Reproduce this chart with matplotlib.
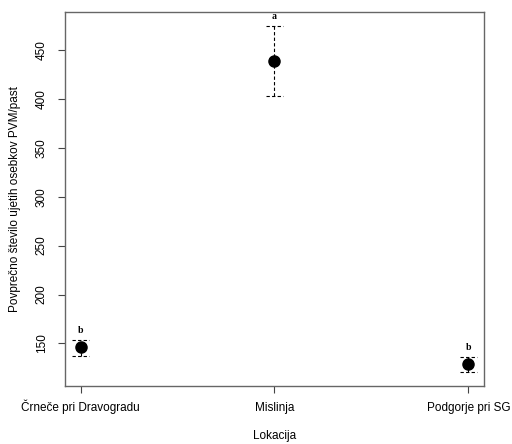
import matplotlib
matplotlib.use('Agg')
import matplotlib.pyplot as plt

# data
locations = ['Črneče pri Dravogradu', 'Mislinja', 'Podgorje pri SG']
means = [146, 439, 128.6]
upper = [153.8, 474.5, 136.4]
lower = [137, 403, 120.7]
letters = ['b', 'a', 'b']

x = list(range(1, len(locations) + 1))

plt.rcParams['font.family'] = ['Liberation Sans', 'DejaVu Sans']

fig = plt.figure(figsize=(5.12, 4.44), dpi=100)
ax = fig.add_axes([0.127, 0.1306, 0.818, 0.8424])

# dashed error bars with dashed caps
dash = (0, (3, 2))
ax.vlines(x, lower, upper, colors='black', linestyles=dash, linewidth=0.8)
cap = 0.045
ax.hlines(upper, [i - cap for i in x], [i + cap for i in x], colors='black',
          linestyles=dash, linewidth=0.8)
ax.hlines(lower, [i - cap for i in x], [i + cap for i in x], colors='black',
          linestyles=dash, linewidth=0.8)

ax.plot(x, means, 'o', color='black', markersize=8, zorder=3)

# significance letters
for xi, up, lab in zip(x, upper, letters):
    ax.text(xi, up + 4.5, lab, ha='center', va='bottom', fontsize=7,
            fontweight='bold', family='Liberation Serif')

ax.set_xlim(0.92, 3.08)
ax.set_ylim(106.5, 488.7)
ax.set_xticks(x)
ax.set_xticklabels(locations, fontsize=8.5)
ax.set_yticks([150, 200, 250, 300, 350, 400, 450])
ax.set_yticklabels(['150', '200', '250', '300', '350', '400', '450'],
                   rotation=90, va='center', fontsize=8.5)
ax.tick_params(length=5, width=0.8, color='#444444')
ax.tick_params(axis='y', pad=7.5)
ax.tick_params(axis='x', pad=13)
for lbl in ax.get_xticklabels():
    lbl.set_verticalalignment('baseline')

for s in ax.spines.values():
    s.set_color('#666666')
    s.set_linewidth(1.0)

ax.set_xlabel('Lokacija', fontsize=8.5)
ax.xaxis.set_label_coords(0.5, -0.134)
ax.xaxis.label.set_verticalalignment('center')
ax.set_ylabel('Povprečno število ujetih osebkov PVM/past', fontsize=8.5)
ax.yaxis.set_label_coords(-0.119, 0.5)
ax.yaxis.label.set_verticalalignment('center')

fig.savefig('out.png', dpi=100)
